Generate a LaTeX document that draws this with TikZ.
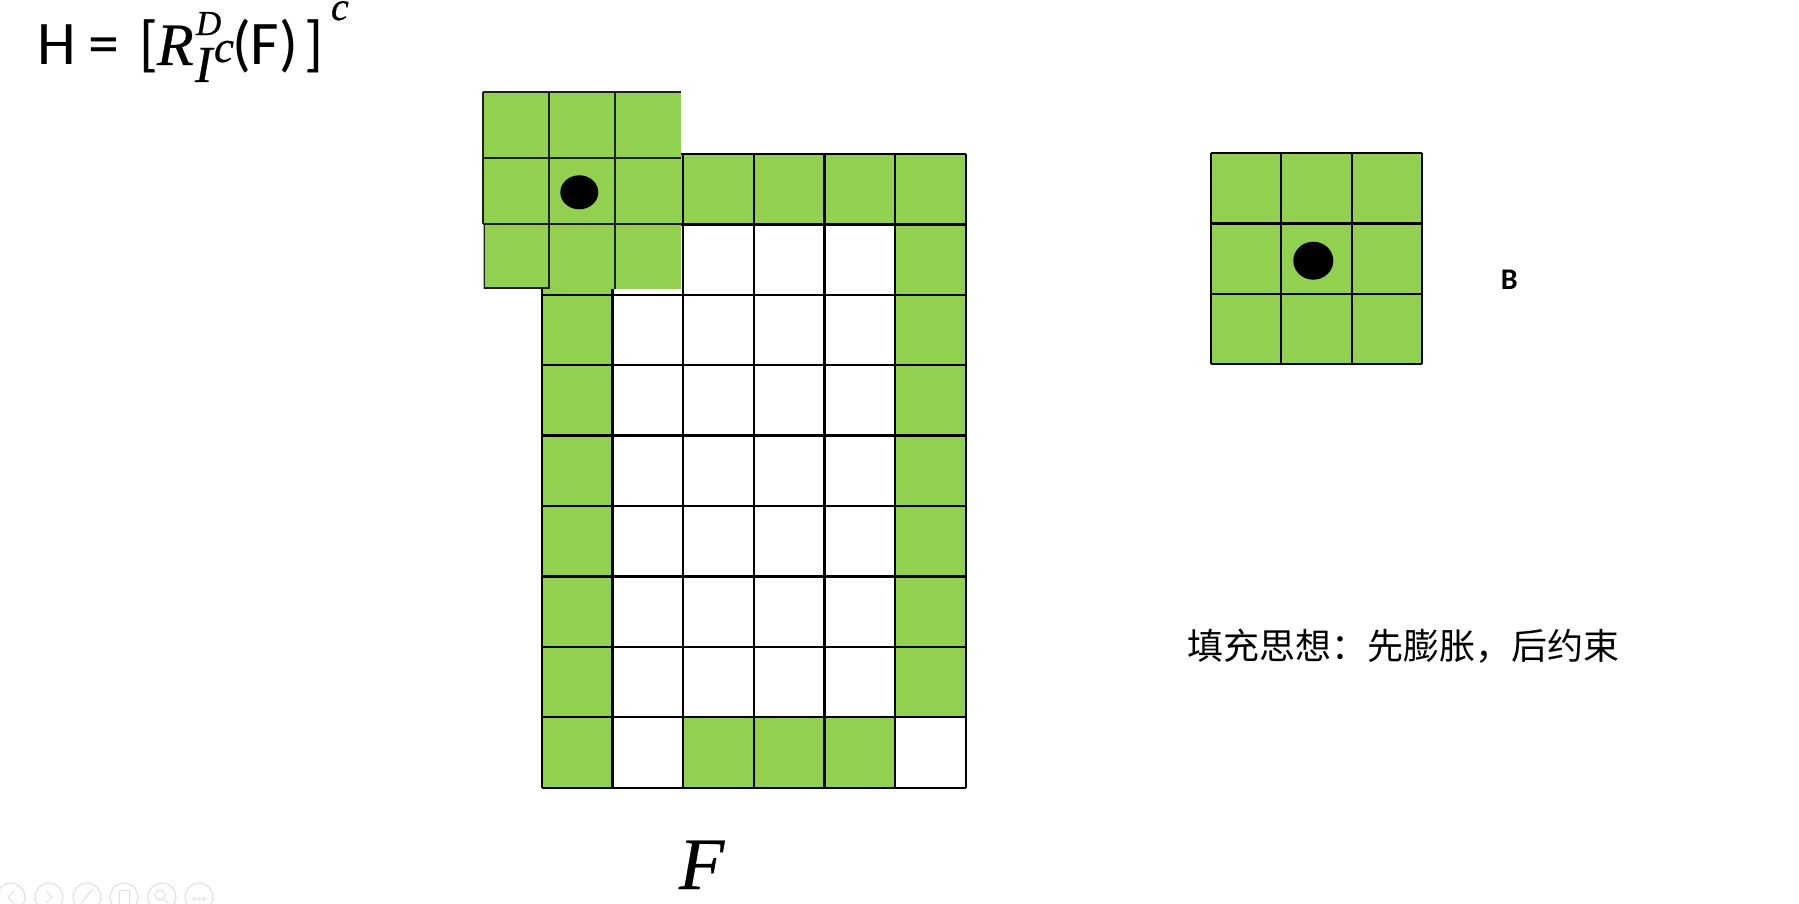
\documentclass[tikz,border=0pt]{standalone}
\usepackage{fontspec}
\usetikzlibrary{shapes.geometric}
\newfontfamily\carlito{Carlito}
\newfontfamily\cjk{Noto Sans CJK SC}
\newfontfamily\mitfont{Liberation Serif Italic}[FakeBold=0.5]
\definecolor{cellgreen}{HTML}{92D050}
\definecolor{uigray}{HTML}{DDDDDD}
\begin{document}
\begin{tikzpicture}[x=1pt,y=-1pt,
  gridline/.style={line width=2.3pt, black},
  seline/.style={line width=1.8pt, black!88},
  greencell/.style={fill=cellgreen},
  dotnode/.style={ellipse, fill=black, inner sep=0pt},
  txt/.style={inner sep=0pt, outer sep=0pt, anchor=base west},
  uiicon/.style={draw=uigray, line width=1pt}]
\useasboundingbox[fill=white] (0,0) rectangle (1799,904);

% ---------- main image F ----------
\def\gx{541.9}\def\gy{154}\def\cw{70.63}\def\ch{70.41}
\fill[greencell] (\gx,\gy) rectangle ++(6*\cw,\ch);
\fill[greencell] (\gx,\gy) rectangle ++(\cw,9*\ch);
\fill[greencell] (\gx+5*\cw,\gy) rectangle ++(\cw,8*\ch);
\fill[greencell] (\gx+2*\cw,\gy+8*\ch) rectangle ++(3*\cw,\ch);
\foreach \k in {0,...,6}{
  \draw[gridline] (\gx+\k*\cw,\gy) -- (\gx+\k*\cw,\gy+9*\ch);
}
\foreach \k in {0,...,9}{
  \draw[gridline] (\gx,\gy+\k*\ch) -- (\gx+6*\cw,\gy+\k*\ch);
}

% ---------- structuring element placed on F ----------
\fill[greencell] (482.7,91.7) rectangle (681,289);
\draw[seline] (482.7,91.7) -- (681,91.7);
\draw[seline] (482.7,158.3) -- (681,158.3);
\draw[seline] (482.7,224) -- (681,224);
\draw[seline] (482.7,91.7) -- (482.7,224);
\draw[seline] (484.5,224) -- (484.5,288) -- (549.3,288);
\draw[seline] (549.3,91.7) -- (549.3,289);
\draw[seline] (615.3,91.7) -- (615.3,289);
\node[dotnode, minimum width=38pt, minimum height=34pt] (overlayDot) at (579.3,192.3) {};

% ---------- structuring element B ----------
\def\bx{1210.7}\def\by{153.3}\def\bw{70.53}\def\bh{70.33}
\fill[greencell] (\bx,\by) rectangle ++(3*\bw,3*\bh);
\foreach \k in {0,...,3}{
  \draw[gridline] (\bx+\k*\bw,\by) -- (\bx+\k*\bw,\by+3*\bh);
  \draw[gridline] (\bx,\by+\k*\bh) -- (\bx+3*\bw,\by+\k*\bh);
}
\node[dotnode, minimum width=40pt, minimum height=38pt] (bDot) at (1313.3,260.7) {};
\node[font=\carlito\bfseries\fontsize{30}{34}\selectfont, inner sep=0pt] (bLabel) at (1509.3,280) {B};

% ---------- formula ----------
\node[txt, font=\carlito\fontsize{62}{70}\selectfont] (fH) at (37,65) {H};
\node[txt, font=\carlito\fontsize{62}{70}\selectfont] (fEq) at (88,65) {=};
\node[txt, font=\carlito\fontsize{62}{70}\selectfont] (fLb) at (139,65) {[};
\node[txt, font=\mitfont\fontsize{60}{66}\selectfont] (fR) at (157,65) {R};
\node[txt, font=\mitfont\fontsize{35}{40}\selectfont] (fD) at (196,35) {D};
\node[txt, font=\mitfont\fontsize{52}{58}\selectfont] (fI) at (195,82) {I};
\node[txt, font=\mitfont\fontsize{45}{50}\selectfont] (fc1) at (214,62) {c};
\node[txt, font=\carlito\fontsize{62}{70}\selectfont] (fF) at (232,65) {(F)};
\node[txt, font=\carlito\fontsize{62}{70}\selectfont] (fRb) at (304,65) {]};
\node[txt, font=\mitfont\fontsize{40}{46}\selectfont] (fc2) at (331,20) {c};

% ---------- labels ----------
\node[txt, font=\mitfont\fontsize{74}{80}\selectfont] (labelF) at (679,889) {F};
\node[anchor=west, inner sep=0pt, font=\cjk\fontsize{36}{42}\selectfont] (idea) at (1187,646) {填充思想：先膨胀，后约束};

% ---------- faint slide-show controls ----------
\foreach \i/\cx in {0/11,1/49,2/87,3/124,4/162,5/199}{
  \draw[uiicon] (\cx,897) circle (14pt);
}
\draw[uiicon] (14,891) -- (8,897) -- (14,903);
\draw[uiicon] (46,891) -- (52,897) -- (46,903);
\draw[uiicon] (81,903) -- (93,889);
\draw[uiicon] (119,890) rectangle (129,904);
\draw[uiicon] (160,895) circle (5pt);
\draw[uiicon] (164,899) -- (168,903);
\foreach \dx in {-5,0,5}{ \draw[uiicon, line width=0.7pt] (199+\dx,899) circle (1.6pt); }
\end{tikzpicture}
\end{document}
